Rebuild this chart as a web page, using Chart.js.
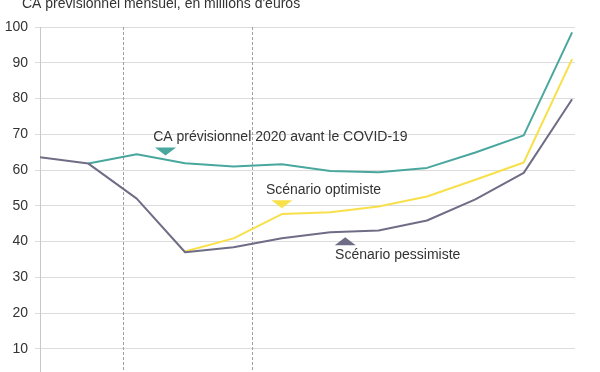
<!DOCTYPE html>
<html>
<head>
<meta charset="utf-8">
<script src="https://cdn.jsdelivr.net/npm/chart.js@4/dist/chart.umd.min.js"></script>
<style>
html,body{margin:0;padding:0;background:#fff;overflow:hidden;width:600px;height:372px;}
#wrap{position:relative;width:600px;height:400px;}
</style>
</head>
<body>
<div id="wrap"><canvas id="c" width="600" height="400"></canvas></div>
<script>
const months = ['janv.','févr.','mars','avr.','mai','juin','juil.','août','sept.','oct.','nov.','déc.'];
const avantCovid = [null, 61.8, 64.4, 61.9, 61.0, 61.6, 59.7, 59.4, 60.6, 64.9, 69.7, 98.5];
const optimiste = [null, null, null, 37.2, 40.9, 47.7, 48.2, 49.8, 52.6, 57.3, 62.1, 91.0];
const pessimiste = [63.6, 61.8, 52.0, 37.0, 38.4, 40.9, 42.6, 43.1, 45.9, 51.8, 59.2, 79.8];
const yTicks = [10, 20, 30, 40, 50, 60, 70, 80, 90, 100];
const dashedMarkers = [1.71, 4.39];
const titleText = "CA prévisionnel mensuel, en millions d'euros";
const labelTexts = ['CA prévisionnel 2020 avant le COVID-19', 'Scénario optimiste', 'Scénario pessimiste'];
const labelAnchors = [[2.34, 69.25], [4.67, 54.3], [6.1, 36.2]];
const triangleAnchors = [[2.595, 64.1, 'down'], [5.0, 49.3, 'down'], [6.31, 38.97, 'up']];

const colTeal = '#4aa79e', colYellow = '#f8e04a', colGrey = '#6f6d86';
const colors = [colTeal, colYellow, colGrey];

const toPts = arr => arr.map((v,i)=>({x:i, y:v}));

const decor = {
  id:'decor',
  beforeDatasetsDraw(chart){
    const {ctx, chartArea, scales:{x,y}} = chart;
    ctx.save();
    ctx.strokeStyle = '#a0a0a0';
    ctx.lineWidth = 1;
    ctx.setLineDash([3,2]);
    dashedMarkers.forEach(m=>{
      const px = Math.round(x.getPixelForValue(m))+0.5;
      ctx.beginPath(); ctx.moveTo(px, chartArea.top); ctx.lineTo(px, chartArea.bottom); ctx.stroke();
    });
    ctx.restore();
  },
  afterDatasetsDraw(chart){
    const {ctx, scales:{x,y}} = chart;
    ctx.save();
    ctx.font = '14px "Liberation Sans", Arial, sans-serif';
    ctx.fillStyle = '#333333';
    ctx.textBaseline = 'middle';
    ctx.textAlign = 'left';
    labelTexts.forEach((t,i)=>{
      ctx.fillText(t, x.getPixelForValue(labelAnchors[i][0]), y.getPixelForValue(labelAnchors[i][1]));
    });
    triangleAnchors.forEach((a,i)=>{
      const cx = x.getPixelForValue(a[0]);
      const by = y.getPixelForValue(a[1]);
      const hw = 10.5, h = 8;
      ctx.fillStyle = colors[i];
      ctx.beginPath();
      if (a[2]==='down'){
        ctx.moveTo(cx-hw, by-h); ctx.lineTo(cx+hw, by-h); ctx.lineTo(cx, by);
      } else {
        ctx.moveTo(cx-hw, by); ctx.lineTo(cx+hw, by); ctx.lineTo(cx, by-h);
      }
      ctx.closePath(); ctx.fill();
    });
    ctx.fillStyle = '#333333';
    ctx.textBaseline = 'alphabetic';
    ctx.fillText(titleText, 22, 8);
    ctx.restore();
  }
};

new Chart(document.getElementById('c'), {
  type:'line',
  data:{
    labels: months,
    datasets:[
      {label:'Scénario pessimiste', data: toPts(pessimiste), borderColor: colGrey, borderWidth:2},
      {label:'Scénario optimiste', data: toPts(optimiste), borderColor: colYellow, borderWidth:2},
      {label:'CA prévisionnel 2020 avant le COVID-19', data: toPts(avantCovid), borderColor: colTeal, borderWidth:2}
    ]
  },
  options:{
    responsive:false,
    animation:false,
    devicePixelRatio:1,
    layout:{padding:{top:27, bottom:5, left:0, right:25}},
    elements:{point:{radius:0}, line:{tension:0, borderJoinStyle:'round'}},
    plugins:{legend:{display:false}, tooltip:{enabled:false}, title:{display:false}},
    scales:{
      x:{type:'linear', min:0, max:11.06, display:false},
      y:{
        min:0, max:100,
        afterFit(s){ s.width = 40; },
        afterBuildTicks(s){ s.ticks = yTicks.map(v=>({value:v})); },
        border:{display:true, color:'#c8c8c8', width:1},
        grid:{color:'#dcdcdc', lineWidth:1, tickLength:5, drawTicks:true},
        ticks:{padding:7, color:'#333333', font:{family:'"Liberation Sans", Arial, sans-serif', size:14}}
      }
    }
  },
  plugins:[decor]
});
</script>
</body>
</html>
